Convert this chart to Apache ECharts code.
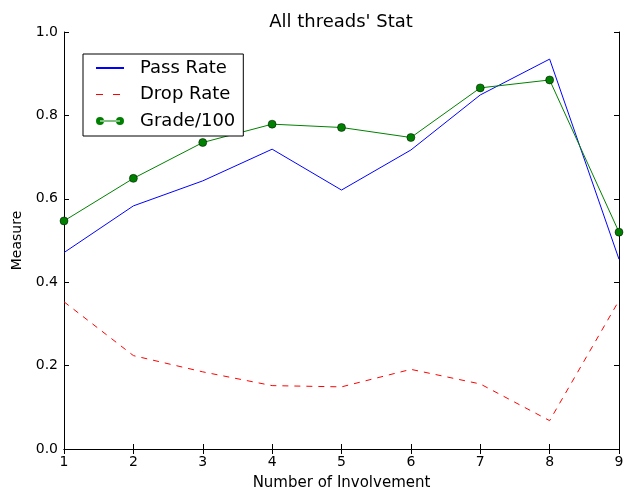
<!DOCTYPE html>
<html><head><meta charset="utf-8">
<script src="https://cdn.jsdelivr.net/npm/echarts@6/dist/echarts.min.js"></script>
<style>html,body{margin:0;padding:0;background:#fff}#c{width:630px;height:489px}</style>
</head><body><div id="c"></div>
<script>
const categories = [1, 2, 3, 4, 5, 6, 7, 8, 9];
const passRate = [0.471, 0.583, 0.643, 0.719, 0.621, 0.717, 0.849, 0.935, 0.455];
const dropRate = [0.353, 0.224, 0.185, 0.152, 0.149, 0.191, 0.156, 0.068, 0.356];
const grade100 = [0.547, 0.649, 0.735, 0.779, 0.771, 0.747, 0.866, 0.885, 0.520];
const yTicks = [0.0, 0.2, 0.4, 0.6, 0.8, 1.0];

const font = 'DejaVu Sans';
const chart = echarts.init(document.getElementById('c'));
const pair = (arr) => categories.map((c, i) => [c, arr[i]]);
const axisLine = {show: true, lineStyle: {color: '#000', width: 1}};
const tick = {show: true, inside: true, length: 5, lineStyle: {color: '#000'}};
const hidden = {color: 'rgba(0,0,0,0)', borderWidth: 0, borderColor: 'rgba(0,0,0,0)'};
const gradeIcon = 'path://M0,4a4,4 0 1,0 8,0a4,4 0 1,0 -8,0z M4,3.5h20v1h-20z M20,4a4,4 0 1,0 8,0a4,4 0 1,0 -8,0z';
chart.setOption({
  animation: false,
  textStyle: {fontFamily: font},
  title: {text: "All threads' Stat", left: 336, top: 8, textAlign: 'center',
    textStyle: {fontFamily: font, fontSize: 18, fontWeight: 'normal', color: '#000'}},
  grid: {left: 64, right: 11, top: 32, bottom: 40, containLabel: false, outerBoundsMode: 'none'},
  legend: {
    left: 83, top: 54, orient: 'vertical', itemWidth: 28, itemHeight: 8, itemGap: 8.5,
    padding: [5, 8, 6, 12], borderColor: '#000', borderWidth: 1, backgroundColor: '#fff',
    textStyle: {fontFamily: font, fontSize: 18, lineHeight: 18, color: '#000', padding: [0, 0, 0, 11]},
    data: [
      {name: 'Pass Rate', itemStyle: hidden},
      {name: 'Drop Rate', itemStyle: hidden, lineStyle: {type: [7, 10], width: 1, color: '#ff0000'}},
      {name: 'Grade/100', icon: gradeIcon, itemStyle: {color: '#008000', borderWidth: 0}}
    ]
  },
  xAxis: [{
    type: 'value', min: 1, max: 9, interval: 1,
    name: 'Number of Involvement', nameLocation: 'middle', nameGap: 27,
    nameTextStyle: {fontFamily: font, fontSize: 15, color: '#000'},
    axisLine: axisLine, axisTick: tick,
    axisLabel: {fontFamily: font, fontSize: 14, color: '#000', margin: 6},
    splitLine: {show: false}
  }, {
    type: 'value', min: 1, max: 9, interval: 1, position: 'top',
    axisLine: axisLine, axisTick: tick,
    axisLabel: {show: false}, splitLine: {show: false}
  }],
  yAxis: [{
    type: 'value', min: 0, max: 1, interval: 0.2,
    name: 'Measure', nameLocation: 'middle', nameGap: 31,
    nameTextStyle: {fontFamily: font, fontSize: 14, color: '#000'},
    axisLine: axisLine, axisTick: tick,
    axisLabel: {fontFamily: font, fontSize: 14, color: '#000', margin: 6,
      formatter: v => { const t = yTicks.find(x => Math.abs(x - v) < 1e-9); return (t !== undefined ? t : v).toFixed(1); }},
    splitLine: {show: false}
  }, {
    type: 'value', min: 0, max: 1, interval: 0.2, position: 'right',
    axisLine: axisLine, axisTick: tick,
    axisLabel: {show: false}, splitLine: {show: false}
  }],
  series: [{
    name: 'Pass Rate', type: 'line', data: pair(passRate), symbol: 'none',
    itemStyle: {color: '#0000ff'}, lineStyle: {color: '#0000ff', width: 1}
  }, {
    name: 'Drop Rate', type: 'line', data: pair(dropRate), symbol: 'none',
    itemStyle: {color: '#ff0000'}, lineStyle: {color: '#ff0000', width: 1, type: [6, 6]}
  }, {
    name: 'Grade/100', type: 'line', data: pair(grade100), symbol: 'circle', symbolSize: 8,
    itemStyle: {color: '#008000', borderColor: '#000', borderWidth: 0.5},
    lineStyle: {color: '#008000', width: 1}
  }]
});
</script></body></html>
